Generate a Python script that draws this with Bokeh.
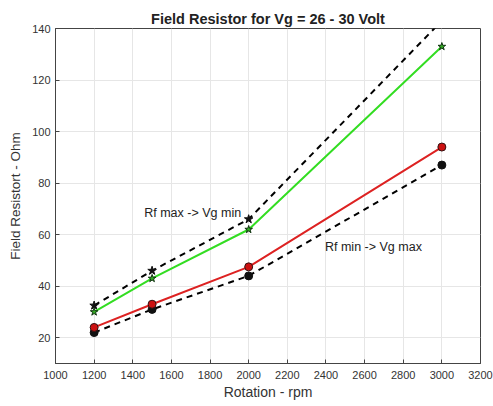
from bokeh.plotting import figure
from bokeh.models import FixedTicker, Range1d, Label
from bokeh.embed import file_html
from bokeh.resources import INLINE

rpm = [1200, 1500, 2000, 3000]
rf_max_bound = [32.5, 46, 66, 143]
rf_max = [30, 43, 62, 133]
rf_min = [24, 33, 47.5, 94]
rf_min_bound = [22, 31, 44, 87]

x_ticks = [1000, 1200, 1400, 1600, 1800, 2000, 2200, 2400, 2600, 2800, 3000, 3200]
y_ticks = [20, 40, 60, 80, 100, 120, 140]

p = figure(width=493, height=406, output_backend="svg", toolbar_location=None,
           x_range=Range1d(1000, 3200), y_range=Range1d(10, 140),
           min_border_left=55, min_border_right=13, min_border_top=28, min_border_bottom=43)
p.title.text = "Field Resistor for Vg = 26 - 30 Volt"
p.title.align = "center"
p.title.text_font = "Liberation Sans"
p.title.text_font_size = "14.5px"
p.title.text_font_style = "bold"
p.title.text_color = "#222222"
p.title.offset = 0
p.title.standoff = 3

p.outline_line_color = "#444444"
p.outline_line_width = 1
p.outline_line_alpha = 1

for ax in (p.xaxis[0], p.yaxis[0]):
    ax.major_tick_in = 4
    ax.major_tick_out = 0
    ax.minor_tick_line_color = None
    ax.axis_line_color = "#444444"
    ax.major_tick_line_color = "#444444"
    ax.major_label_text_font = "Liberation Sans"
    ax.major_label_text_font_size = "11px"
    ax.major_label_text_color = "#333333"
    ax.axis_label_text_font = "Liberation Sans"
    ax.axis_label_text_font_style = "normal"
    ax.axis_label_text_color = "#333333"

p.xaxis.axis_label_text_font_size = "14px"
p.yaxis.axis_label_text_font_size = "13.5px"
p.xaxis.ticker = FixedTicker(ticks=x_ticks)
p.yaxis.ticker = FixedTicker(ticks=y_ticks)
p.xaxis.axis_label = "Rotation - rpm"
p.yaxis.axis_label = "Field Resistort - Ohm"
p.xaxis.major_label_standoff = 7
p.yaxis.major_label_standoff = 5
p.xaxis.axis_label_standoff = 2
p.yaxis.axis_label_standoff = 6

p.grid.grid_line_color = "#e6e6e6"
p.grid.grid_line_width = 1

# upper dashed bound
p.line(rpm, rf_max_bound, line_color="black", line_width=2, line_dash="6 5")
p.scatter(rpm, rf_max_bound, marker="star", size=9, fill_color="#111111", line_color="#111111")
# lower dashed bound
p.line(rpm, rf_min_bound, line_color="black", line_width=2, line_dash="6 5")
p.scatter(rpm, rf_min_bound, marker="circle", size=8, fill_color="#111111", line_color="#111111")
# green
p.line(rpm, rf_max, line_color="#33dd22", line_width=2)
p.scatter(rpm, rf_max, marker="star", size=8, fill_color="#33aa22", line_color="#113311")
# red
p.line(rpm, rf_min, line_color="#dd2222", line_width=2)
p.scatter(rpm, rf_min, marker="circle", size=8, fill_color="#cc1111", line_color="#331111")

p.add_layout(Label(x=1710, y=68.5, text="Rf max -> Vg min", text_font="Liberation Sans",
                   text_font_size="12.5px", text_color="#222222", text_align="center",
                   text_baseline="middle"))
p.add_layout(Label(x=2395, y=55.3, text="Rf min -> Vg max", text_font="Liberation Sans",
                   text_font_size="12.5px", text_color="#222222", text_align="left",
                   text_baseline="middle"))

open("out.html", "w").write(file_html(p, INLINE))
